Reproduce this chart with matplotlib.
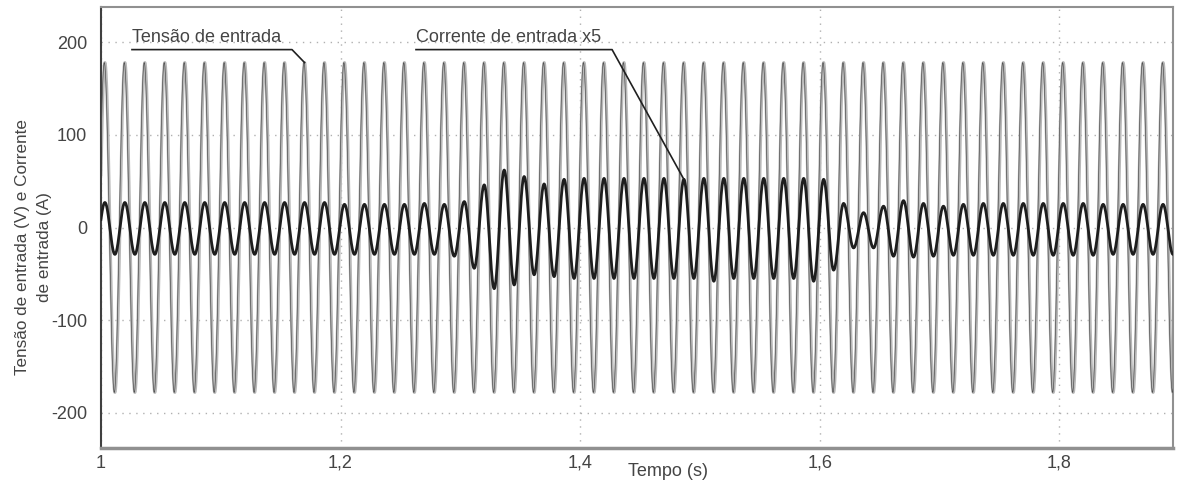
import numpy as np
import matplotlib
matplotlib.use("Agg")
import matplotlib.pyplot as plt

plt.rcParams['font.family'] = ['Liberation Sans', 'DejaVu Sans']
plt.rcParams['axes.unicode_minus'] = False

# dados
freq = 60.0            # Hz
t_first_peak = 1.0033  # s, primeiro pico da tensao
v_peak = 178.0         # V

# picos e vales da corrente (x5) por ciclo (A)
i_peaks = [27, 27, 27, 27, 27, 27, 27, 27, 27, 27, 27, 27, 25, 25, 25, 25, 26,
           25, 28, 46, 62, 55, 47, 52, 53, 53, 53, 53, 53, 52, 53, 53, 53, 53,
           53, 53, 52, 26, 16, 23, 29, 26, 23, 25, 26, 26, 26, 26, 26, 26, 25,
           25, 25, 25]
i_valleys = [-29, -29, -29, -29, -29, -29, -29, -29, -29, -29, -29, -29, -29,
             -29, -29, -29, -29, -31, -44, -66, -62, -51, -53, -55, -55, -55,
             -55, -55, -55, -55, -58, -55, -55, -55, -55, -58, -46, -22, -22,
             -31, -32, -31, -30, -30, -30, -30, -30, -30, -30, -30, -29, -29,
             -29, -29]

x_ticks = [1.0, 1.2, 1.4, 1.6, 1.8]
x_labels = ['1', '1,2', '1,4', '1,6', '1,8']
y_ticks = [-200, -100, 0, 100, 200]

T = 1.0 / freq
t = np.arange(1.0, 1.9, 1e-5)
phase = 2 * np.pi * freq * (t - t_first_peak)
tensao = v_peak * np.cos(phase)

# corrente: meio ciclo de cosseno entre cada pico e vale lidos
ext = np.empty(2 * len(i_peaks))
ext[0::2] = i_peaks
ext[1::2] = i_valleys
pos = (t - t_first_peak) / T * 2
k = np.clip(np.floor(pos).astype(int), 0, len(ext) - 1)
a = ext[k]
b = ext[np.clip(k + 1, 0, len(ext) - 1)]
frac = pos - np.floor(pos)
s = (1 - np.cos(np.pi * frac)) / 2
corrente = a + (b - a) * s
antes = t < t_first_peak
corrente[antes] = i_peaks[0] * np.cos(phase[antes])

fig = plt.figure(figsize=(11.78, 4.82), dpi=100)
ax = fig.add_axes([0.0857, 0.0705, 0.9101, 0.915])

ax.plot(t, tensao, color='#b8b8b8', lw=2.2, zorder=2)
ax.plot(t - 0.0005, tensao, color='#505050', lw=0.5, zorder=3)
ax.plot(t, corrente, color='#1e1e1e', lw=2.0, zorder=4)

ax.set_xlim(1.0, 1.895)
ax.set_ylim(-238, 238)
ax.set_xticks(x_ticks)
ax.set_xticklabels(x_labels)
ax.set_yticks(y_ticks)
ax.tick_params(length=0, labelsize=13, labelcolor='#444444')
ax.tick_params(axis='y', pad=10)
ax.tick_params(axis='x', pad=5)
ax.grid(True, color='#b0b0b0', linestyle=(0, (1, 4)), lw=1)

for side in ['top', 'right']:
    ax.spines[side].set_color('#909090')
    ax.spines[side].set_linewidth(1.5)
ax.spines['left'].set_color('#404040')
ax.spines['left'].set_linewidth(1.5)
ax.spines['bottom'].set_color('#909090')
ax.spines['bottom'].set_linewidth(2.5)

ax.set_ylabel('Tensão de entrada (V) e Corrente\nde entrada (A)', fontsize=12.3,
              color='#444444', linespacing=1.55)
ax.yaxis.set_label_coords(-0.046, 0.456)
ax.set_xlabel('Tempo (s)', fontsize=13, color='#444444')
ax.xaxis.set_label_coords(0.529, -0.034)

# anotacoes
y_lab = 192
t_v = t_first_peak + 10 * T
ax.plot([1.0259, 1.1595, t_v], [y_lab, y_lab, v_peak], color='#202020', lw=1.2, zorder=5)
ax.text(1.026, y_lab + 4, 'Tensão de entrada', fontsize=13, color='#444444',
        ha='left', va='bottom')
t_i = t_first_peak + 29 * T
ax.plot([1.263, 1.4267, t_i], [y_lab, y_lab, i_peaks[29]], color='#202020', lw=1.2, zorder=5)
ax.text(1.263, y_lab + 4, 'Corrente de entrada x5', fontsize=13, color='#444444',
        ha='left', va='bottom')

fig.savefig('out.png', dpi=100)
